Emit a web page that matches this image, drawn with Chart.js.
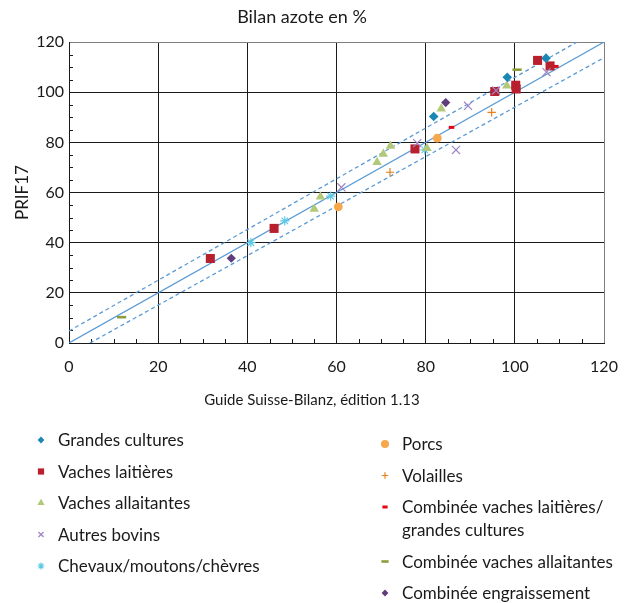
<!DOCTYPE html>
<html>
<head>
<meta charset="utf-8">
<script src="https://cdn.jsdelivr.net/npm/chart.js@4.4.0/dist/chart.umd.min.js"></script>
<style>
  html, body { margin: 0; padding: 0; background: #fff; }
  #wrap { width: 629px; height: 603px; }
</style>
</head>
<body>
<div id="wrap"><canvas id="bilan" width="629" height="603"></canvas></div>
<script>
// points: [Guide Suisse-Bilanz, PRIF17]
const grandesCultures = [[107, 113.6], [98.3, 106], [81.8, 90.3]];
const vachesLaitieres = [[105.1, 112.7], [107.9, 110.5], [100.2, 102.8], [100.3, 101.3], [95.5, 100.3], [77.6, 77.4], [46, 45.7], [31.7, 33.7]];
const vachesAllaitantes = [[98.2, 102.6], [83.5, 93.4], [72.1, 78.6], [70.5, 75.4], [69.1, 72.1], [80.3, 77.7], [56.4, 58.3], [55, 53.4]];
const autresBovins = [[107.1, 108], [95.8, 100.7], [89.5, 94.6], [86.8, 77], [78.1, 79.7], [61.1, 62.1]];
const chevaux = [[79.8, 77], [58.7, 58.6], [48.4, 48.7], [40.8, 40]];
const porcs = [[82.6, 81.7], [60.4, 54.3]];
const volailles = [[94.8, 92], [72, 68.1]];
const combVlGc = [[109.2, 110.3], [85.8, 86]];
const combVa = [[100.5, 109], [11.8, 10.3]];
const combEngr = [[84.5, 95.9], [36.4, 33.8]];

// reference lines
const lineEqual = [[0, 0], [120, 120]];
const lineUpper = [[0, 4.8], [113.9, 120]];
const lineLower = [[4.7, 0], [120, 113.8]];

const axisTicks = [0, 20, 40, 60, 80, 100, 120];
const xTitle = 'Guide Suisse-Bilanz, édition 1.13';

const FONT = 'Lato, "Noto Sans", sans-serif';
const LINE_BLUE = '#5b9bd5';

const pts = arr => arr.map(p => ({ x: p[0], y: p[1] }));

function marker(label, arr, style, color, r, opts) {
  return Object.assign({
    label: label,
    data: pts(arr),
    pointStyle: style,
    pointRadius: r,
    pointBackgroundColor: color,
    pointBorderColor: color,
    pointBorderWidth: 0,
    backgroundColor: color,
    borderColor: color,
    showLine: false,
  }, opts || {});
}

function refLine(arr, dash) {
  return {
    label: '',
    data: pts(arr),
    showLine: true,
    borderColor: LINE_BLUE,
    borderWidth: 1.3,
    borderDash: dash,
    pointRadius: 0,
    order: 20,
  };
}

const datasets = [
  marker('Grandes cultures', grandesCultures, 'rectRot', '#1b87b5', 4.8),
  marker('Vaches laitières', vachesLaitieres, 'rect', '#b8202e', 6.4),
  marker('Vaches allaitantes', vachesAllaitantes, 'triangle', '#b3c97a', 5.5),
  marker('Autres bovins', autresBovins, 'crossRot', '#9d84c4', 5.7, { pointBorderWidth: 1.2, order: -1 }),
  marker('Chevaux/moutons/chèvres', chevaux, 'star', '#5ec8e5', 4.6, { pointBorderWidth: 1.2 }),
  marker('Porcs', porcs, 'circle', '#f7a84c', 4.4),
  marker('Volailles', volailles, 'cross', '#e8801e', 4.2, { pointBorderWidth: 1.2 }),
  marker(['Combinée vaches laitières/', 'grandes cultures'], combVlGc, 'line', '#e30613', 2.8, { pointBorderWidth: 3 }),
  marker('Combinée vaches allaitantes', combVa, 'line', '#8c9c3c', 4.6, { pointBorderWidth: 2.6 }),
  marker('Combinée engraissement', combEngr, 'rectRot', '#5f3d7d', 4.6),
  refLine(lineEqual, []),
  refLine(lineUpper, [4, 3]),
  refLine(lineLower, [4, 3]),
];

// small inward ticks every 5 units on the left and bottom axes
const minorTicks = {
  id: 'minorTicks',
  beforeDatasetsDraw(chart) {
    const { ctx, chartArea, scales } = chart;
    ctx.save();
    ctx.strokeStyle = '#1a1a1a';
    ctx.lineWidth = 1;
    ctx.beginPath();
    for (let v = 5; v < 120; v += 5) {
      if (v % 20 === 0) continue;
      const px = Math.round(scales.x.getPixelForValue(v)) + 0.5;
      ctx.moveTo(px, chartArea.bottom);
      ctx.lineTo(px, chartArea.bottom - 4);
      const py = Math.round(scales.y.getPixelForValue(v)) + 0.5;
      ctx.moveTo(chartArea.left, py);
      ctx.lineTo(chartArea.left + 4, py);
    }
    ctx.stroke();
    ctx.restore();
  }
};

// x axis caption and the two-column legend under the plot
const blockLegend = {
  id: 'blockLegend',
  afterDraw(chart) {
    const ctx = chart.ctx;
    ctx.save();
    ctx.fillStyle = '#1a1a1a';
    ctx.textBaseline = 'middle';
    ctx.textAlign = 'center';
    ctx.font = '15px ' + FONT;
    ctx.fillText(xTitle, 312, 400);

    ctx.textAlign = 'left';
    const cols = [
      { mx: 41, tx: 58, y: 441, items: [0, 1, 2, 3, 4] },
      { mx: 385, tx: 402, y: 445, items: [5, 6, 7, 8, 9] },
    ];
    const legendRadius = [3.4, 4.4, 4.2, 3.6, 3.4, 4, 3.2, 2.6, 3.6, 3.4];
    ctx.font = '17px ' + FONT;
    cols.forEach(col => {
      let y = col.y;
      col.items.forEach(i => {
        const ds = chart.data.datasets[i];
        ctx.fillStyle = ds.pointBackgroundColor;
        ctx.strokeStyle = ds.pointBorderColor;
        ctx.lineWidth = ds.pointBorderWidth;
        Chart.helpers.drawPoint(ctx, {
          pointStyle: ds.pointStyle,
          radius: legendRadius[i],
          rotation: 0,
          borderWidth: ds.pointBorderWidth,
        }, col.mx, y - 1);
        const lines = Array.isArray(ds.label) ? ds.label : [ds.label];
        ctx.fillStyle = '#1a1a1a';
        lines.forEach((t, k) => ctx.fillText(t, col.tx, y + k * 23));
        y += 31.5 + (lines.length - 1) * 23;
      });
    });
    ctx.restore();
  }
};

new Chart(document.getElementById('bilan'), {
  type: 'scatter',
  data: { datasets: datasets },
  plugins: [minorTicks, blockLegend],
  options: {
    responsive: false,
    animation: false,
    layout: { padding: { left: 0, right: 25, top: 0, bottom: 194 } },
    plugins: {
      legend: { display: false },
      tooltip: { enabled: false },
      title: {
        display: true,
        text: 'Bilan azote en %',
        color: '#1a1a1a',
        font: { family: FONT, size: 18, weight: 'normal' },
        padding: { top: 6.5, bottom: 14 },
      },
    },
    scales: {
      x: {
        type: 'linear',
        min: 0,
        max: 120,
        afterBuildTicks: s => { s.ticks = axisTicks.map(v => ({ value: v })); },
        afterFit: s => { s.height = 66; s.paddingLeft = 0; s.paddingRight = 0; },
        grid: {
          drawTicks: false,
          color: c => (c.tick && c.tick.value === 120 ? '#808080' : '#1a1a1a'),
          lineWidth: 1,
        },
        border: { color: '#1a1a1a' },
        ticks: { color: '#1a1a1a', padding: 14, maxRotation: 0, font: { family: FONT, size: 16 } },
      },
      y: {
        type: 'linear',
        min: 0,
        max: 120,
        afterBuildTicks: s => { s.ticks = axisTicks.map(v => ({ value: v })); },
        afterFit: s => { s.width = 69; },
        grid: {
          drawTicks: false,
          color: c => (c.tick && c.tick.value === 120 ? '#808080' : '#1a1a1a'),
          lineWidth: 1,
        },
        border: { color: '#1a1a1a' },
        ticks: { color: '#1a1a1a', padding: 5, font: { family: FONT, size: 16 } },
        title: {
          display: true,
          text: 'PRIF17',
          color: '#1a1a1a',
          font: { family: FONT, size: 17 },
          padding: { top: 12, bottom: 0 },
        },
      },
    },
  },
});
</script>
</body>
</html>
